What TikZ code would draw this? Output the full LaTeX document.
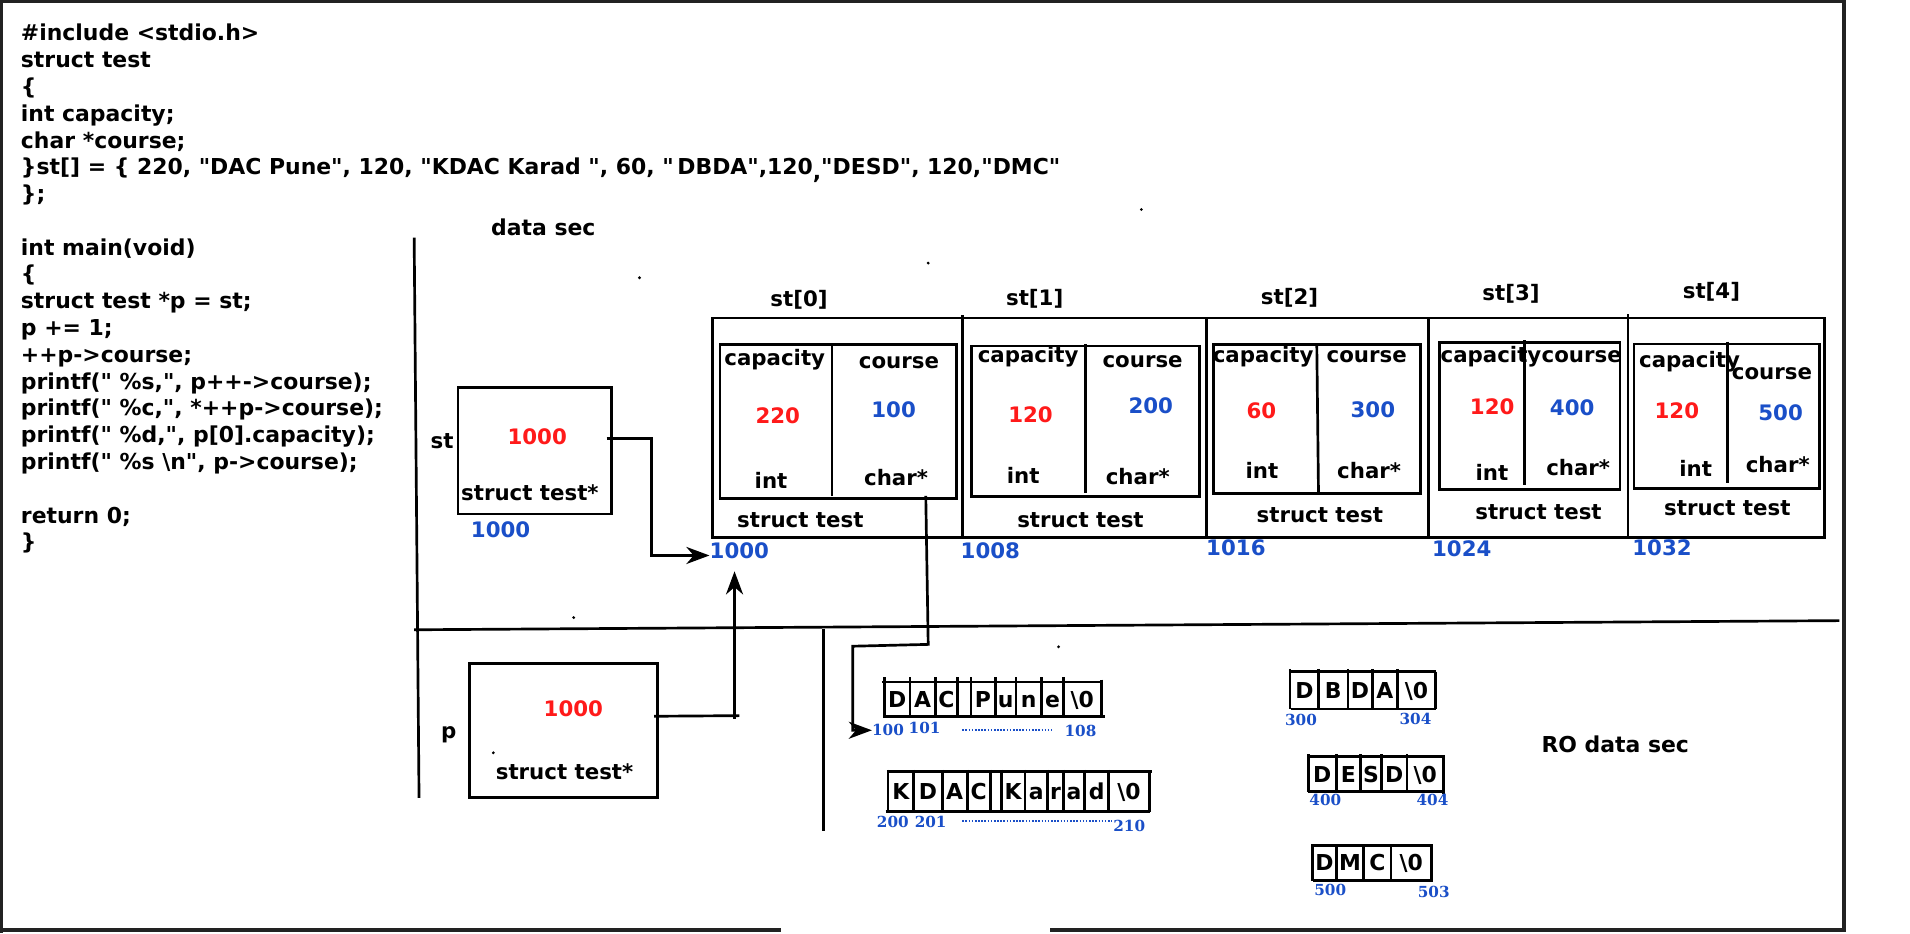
\documentclass[tikz,border=0pt]{standalone}
\usepackage{fontspec}
\setmainfont{DejaVu Sans}
\newfontfamily\codefont{DejaVu Sans}
\newfontfamily\numfont{DejaVu Serif}
\usetikzlibrary{arrows.meta}
\definecolor{redc}{HTML}{FF1A1A}
\definecolor{bluec}{HTML}{1A4FC8}
\definecolor{framec}{HTML}{222222}
\begin{document}
\begin{tikzpicture}[x=1pt,y=-1pt,
  code/.style={anchor=base west,inner sep=0pt,font={\codefont\fontsize{18}{22}\selectfont\bfseries}},
  lb/.style={inner sep=0pt,text height=12.5pt,text depth=3.5pt,font=\fontsize{17.5}{20}\selectfont\bfseries},
  rd/.style={lb,text=redc},
  bl/.style={lb,text=bluec},
  chr/.style={inner sep=0pt,text height=13pt,text depth=0pt,font=\fontsize{18}{20}\selectfont\bfseries},
  ad/.style={inner sep=0pt,text=bluec,font=\fontsize{12.5}{14}\selectfont\numfont\bfseries},
  bx/.style={draw,line width=2.2pt,inner sep=0pt},
  ln/.style={line width=2.2pt},
  arr/.style={line width=2.2pt,-{Stealth[length=19pt,width=14pt,inset=6pt]}},
  frm/.style={line width=3.5pt,draw=framec},
  dotl/.style={draw=bluec,line width=1.4pt,dash pattern=on 1.3pt off 1.3pt},
  speck/.style={fill=black}]
\useasboundingbox (0,0) rectangle (1568,766);
\fill[white] (0,0) rectangle (1568,766);

% frame
\draw[frm,line width=2.5pt] (1.5,766) -- (1.5,1.5) -- (1514,1.5);
\draw[frm] (1514,0) -- (1514,765);
\draw[frm] (0,763.5) -- (641,763.5);
\draw[frm] (862,763.5) -- (1515.5,763.5);

% code
\node[code] (c01) at (17,33.5) {\#include <stdio.h>};
\node[code] (c02) at (17,55.5) {struct test};
\node[code] (c03) at (17,77.5) {\{};
\node[code] (c04) at (17,99.5) {int capacity;};
\node[code] (c05) at (17,121.5) {char *course;};
\node[code] (c06) at (17,143.5) {\}st[] = \{ 220, "DAC Pune", 120, "KDAC Karad ", 60, "\,DBDA",120\raisebox{-4pt}{,}"DESD", 120,"DMC"};
\node[code] (c07) at (17,165.5) {\};};
\node[code] (c08) at (17,209.5) {int main(void)};
\node[code] (c09) at (17,231.5) {\{};
\node[code] (c10) at (17,253.5) {struct test *p = st;};
\node[code] (c11) at (17,275.5) {p += 1;};
\node[code] (c12) at (17,297.5) {++p->course;};
\node[code] (c13) at (17,319.5) {printf(" \%s,", p++->course);};
\node[code] (c14) at (17,341.5) {printf(" \%c,", *++p->course);};
\node[code] (c15) at (17,363.5) {printf(" \%d,", p[0].capacity);};
\node[code] (c16) at (17,385.5) {printf(" \%s \textbackslash n", p->course);};
\node[code] (c17) at (17,429.5) {return 0;};
\node[code] (c18) at (17,451.5) {\}};

% section dividers
\draw[ln] (340,195) -- (344,655);
\draw[ln] (340,517) -- (1510,509.5);
\draw[ln] (676,516) -- (676,682);
\node[lb,font=\fontsize{18}{20}\selectfont\bfseries] (dsec) at (446,189) {data sec};
\node[lb,font=\fontsize{18}{20}\selectfont\bfseries] (rosec) at (1326,613) {RO data sec};

% specks
\foreach \x/\y in {937/172,762/216,525/228,471/507,869/531,405/618}
  \fill[speck] (\x,\y) circle (1.3pt);

% st pointer
\node[bx,minimum width=126pt,minimum height=104pt] (stbox) at (439,370) {};
\node[lb] (stname) at (363,364) {st};
\node[rd] (stval) at (441,360) {1000};
\node[lb] (sttype) at (435,406.4) {struct test*};
\node[bl] (staddr) at (411,437) {1000};

% p pointer
\node[bx,minimum width=154.5pt,minimum height=110pt] (pbox) at (462.7,599.8) {};
\node[lb] (pname) at (368.4,602) {p};
\node[rd] (pval) at (470.7,583.5) {1000};
\node[lb] (ptype) at (463.5,635.5) {struct test*};

% array outer
\draw[ln] (585,261) rectangle (1498,441);
\draw[ln] (790,258.6) -- (790,441);
\draw[ln] (990.7,262) -- (990.7,441);
\draw[ln] (1172.5,262) -- (1172.5,441);
\draw[ln] (1336.6,257.8) -- (1336.6,441);

% st[0]
\draw[ln] (591,283) rectangle (785,409.5);
\draw[ln] (683,282.5) -- (683,407);
\node[lb] (cap0) at (636,295.6) {capacity};
\node[lb] (crs0) at (738,298.3) {course};
\node[rd] (v0) at (638.5,343.5) {220};
\node[bl] (q0) at (733.6,338) {100};
\node[lb] (int0) at (633,396.9) {int};
\node[lb] (chr0) at (735.6,394) {char*};
\node[lb] (stt0) at (657,428.3) {struct test};
\node[lb] (st0) at (656,246.9) {st[0]};
\node[bl] (ad0) at (607,454.3) {1000};

% st[1]
\draw[ln] (797.8,284) rectangle (984.7,407.8);
\draw[ln] (891,282.5) -- (891,404.5);
\node[lb] (cap1) at (844,293.4) {capacity};
\node[lb] (crs1) at (938,297) {course};
\node[rd] (v1) at (846,342.7) {120};
\node[bl] (q1) at (944.7,335.3) {200};
\node[lb] (int1) at (840,392.8) {int};
\node[lb] (chr1) at (934,393.6) {char*};
\node[lb] (stt1) at (887,428.3) {struct test};
\node[lb] (st1) at (849.4,246.3) {st[1]};
\node[bl] (ad1) at (813,453.8) {1008};

% st[2]
\draw[ln] (996.1,282.7) rectangle (1166.4,405);
\draw[ln] (1081,282.7) -- (1082.4,405);
\node[lb] (cap2) at (1037,293.4) {capacity};
\node[lb] (crs2) at (1122,293.4) {course};
\node[rd] (v2) at (1035.5,339.4) {60};
\node[bl] (q2) at (1127,338) {300};
\node[lb] (int2) at (1036,388.6) {int};
\node[lb] (chr2) at (1124,388) {char*};
\node[lb] (stt2) at (1083.5,424.8) {struct test};
\node[lb] (st2) at (1058.6,245.8) {st[2]};
\node[bl] (ad2) at (1014.6,451.6) {1016};

% st[3]
\draw[ln] (1181.6,281) rectangle (1329.8,401.8);
\draw[ln] (1251.6,279.2) -- (1251.6,398.2);
\node[lb] (cap3) at (1224,293.4) {capacity};
\node[lb] (crs3) at (1298.5,293.4) {course};
\node[rd] (v3) at (1225,336) {120};
\node[bl] (q3) at (1290.7,337) {400};
\node[lb] (int3) at (1224.8,390) {int};
\node[lb] (chr3) at (1295.6,386) {char*};
\node[lb] (stt3) at (1263,422.3) {struct test};
\node[lb] (st3) at (1240.5,242.2) {st[3]};
\node[bl] (ad3) at (1200,452.4) {1024};

% st[4]
\draw[ln] (1341.4,282.5) rectangle (1493.7,401);
\draw[ln] (1418,280.5) -- (1418,396.9);
\node[lb] (cap4) at (1387,297) {capacity};
\node[lb] (crs4) at (1454.7,307) {course};
\node[rd] (v4) at (1376.6,338.8) {120};
\node[bl] (q4) at (1461.8,340.8) {500};
\node[lb] (int4) at (1392,386.5) {int};
\node[lb] (chr4) at (1459.4,383.7) {char*};
\node[lb] (stt4) at (1418,418.8) {struct test};
\node[lb] (st4) at (1405,240.3) {st[4]};
\node[bl] (ad4) at (1364.4,451.6) {1032};

% strings: DAC Pune
\draw[ln] (724,560) -- (905,560);
\draw[ln] (725,588) -- (907,588);
\draw[ln] (904,558) -- (904,588);
\foreach \a/\b/\c [count=\i] in {726/747/D,747/768/A,768/786/C,786/797/{},797/817/P,817/834/u,834/855/n,855/873/e,873/904/{\textbackslash0}}{
  \draw[ln] (\a,556) -- (\a,588);
  \node[chr] (sa\i) at ({(\a+\b)/2},574) {\c};
}
\node[ad] (a100) at (729,599) {100};
\node[ad] (a101) at (759,598) {101};
\draw[dotl] (790,599) -- (863,599);
\node[ad] (a108) at (887,600) {108};

% KDAC Karad
\draw[ln] (728,633.6) -- (946,633.6);
\draw[ln] (727,666.4) -- (944,666.4);
\draw[ln] (943.5,633.6) -- (943.5,666.4);
\foreach \a/\b/\c [count=\i] in {729/750/K,750/773.5/D,773.5/794/A,794/813/C,813/822/{},822/841.5/K,841.5/860/a,860/873/r,873/890.5/a,890.5/910/d,910/943.5/{\textbackslash0}}{
  \draw[ln] (\a,632) -- (\a,666.4);
  \node[chr] (sb\i) at ({(\a+\b)/2},650) {\c};
}
\node[ad] (a200) at (733,674.6) {200};
\node[ad] (a201) at (764,674.6) {201};
\draw[dotl] (790,674) -- (913,674);
\node[ad] (a210) at (927,678) {210};

% DBDA
\draw[ln] (1058,551.4) -- (1179,551.4);
\draw[ln] (1060,582.1) -- (1179,582.1);
\draw[ln] (1178.4,551.4) -- (1178.4,582.1);
\foreach \a/\b/\c [count=\i] in {1059/1082.6/D,1082.6/1106.5/B,1106.5/1126.5/D,1126.5/1147.3/A,1147.3/1178.4/{\textbackslash0}}{
  \draw[ln] (\a,549) -- (\a,582.1);
  \node[chr] (sc\i) at ({(\a+\b)/2},567) {\c};
}
\node[ad] (a300) at (1068,591) {300};
\node[ad] (a304) at (1162,590) {304};

% DESD
\draw[ln] (1073,621) -- (1186,621);
\draw[ln] (1074,650) -- (1186,650);
\draw[ln] (1185,621) -- (1185,652);
\foreach \a/\b/\c [count=\i] in {1074/1097/D,1097/1117/E,1117/1134/S,1134/1155/D,1155/1185/{\textbackslash0}}{
  \draw[ln] (\a,619) -- (\a,650);
  \node[chr] (sd\i) at ({(\a+\b)/2},636) {\c};
}
\node[ad] (a400) at (1088,657) {400};
\node[ad] (a404) at (1176,657) {404};

% DMC
\draw[ln] (1076.5,694) -- (1176,694);
\draw[ln] (1077.5,723) -- (1176,723);
\draw[ln] (1175,694) -- (1175,723);
\foreach \a/\b/\c [count=\i] in {1077.5/1097/D,1097/1119.6/M,1119.6/1142/C,1142/1175/{\textbackslash0}}{
  \draw[ln] (\a,694) -- (\a,723);
  \node[chr] (se\i) at ({(\a+\b)/2},708.5) {\c};
}
\node[ad] (a500) at (1092,731) {500};
\node[ad] (a503) at (1177,732) {503};

% connectors
\coordinate (s0) at (498,360);
\coordinate (s1) at (535,360);
\coordinate (s2) at (535,456);
\draw[arr] (s0) -- (s1) -- (s2) -- (s2 -| ad0.west);

\coordinate (p0) at (537,588);
\coordinate (p1) at (607,587.5);
\draw[ln] (p0) -- (p1);
\coordinate (p2) at (603,590);
\coordinate (p3) at (603,469);
\draw[arr] (p2) -- (p3);

\coordinate (k0) at (760,407);
\coordinate (k1) at (762,529);
\coordinate (k2) at (700,530.5);
\coordinate (k3) at (700,599.5);
\draw[arr] (k0) -- (k1) -- (k2) -- (k3) -- (k3 -| a100.west);
\end{tikzpicture}
\end{document}
